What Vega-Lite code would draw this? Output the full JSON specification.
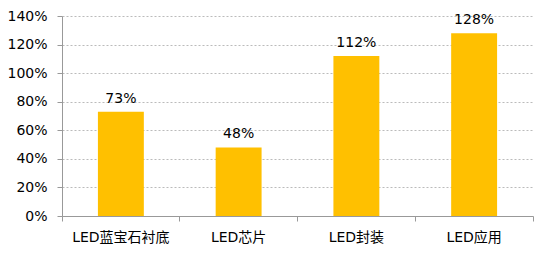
{
  "$schema": "https://vega.github.io/schema/vega-lite/v6.json",
  "autosize": {"type": "none"},
  "padding": {"left": 62, "top": 16, "right": 14, "bottom": 63},
  "width": 471,
  "height": 200,
  "background": "white",
  "config": {"view": {"stroke": null}, "font": "DejaVu Sans, Noto Sans CJK SC"},
  "data": {"values": [
    {"cat": "LED蓝宝石衬底", "v": 0.73},
    {"cat": "LED芯片", "v": 0.48},
    {"cat": "LED封装", "v": 1.12},
    {"cat": "LED应用", "v": 1.28}
  ]},
  "layer": [
    {
      "mark": {"type": "bar", "color": "#FFC000", "width": {"band": 0.39}},
      "encoding": {
        "x": {"field": "cat", "type": "nominal", "sort": null,
              "scale": {"paddingInner": 0, "paddingOuter": 0},
              "axis": {"title": null, "labelAngle": 0, "bandPosition": 1, "tickExtra": true,
                       "domainColor": "#999", "tickColor": "#999", "tickSize": 5,
                       "labelFontSize": 14, "labelColor": "#000", "labelPadding": 9,
                       "labelFont": "DejaVu Sans, Noto Sans CJK SC"}},
        "y": {"field": "v", "type": "quantitative",
              "scale": {"domain": [0, 1.4], "nice": false},
              "axis": {"title": null, "values": [0, 0.2, 0.4, 0.6, 0.8, 1.0, 1.2, 1.4], "tickCount": 10, "format": ".0%",
                       "labelOverlap": false, "labelFlush": false,
                       "domainColor": "#999", "tickColor": "#999", "tickSize": 5,
                       "labelFontSize": 14, "labelColor": "#000", "labelPadding": 10,
                       "labelFont": "DejaVu Sans",
                       "gridColor": "#bbb", "gridDash": [2, 2], "gridWidth": 1}}
      }
    },
    {
      "mark": {"type": "text", "fontSize": 14, "font": "DejaVu Sans", "color": "#000", "baseline": "alphabetic", "dy": -9},
      "encoding": {
        "x": {"field": "cat", "type": "nominal", "sort": null},
        "y": {"field": "v", "type": "quantitative"},
        "text": {"field": "v", "type": "quantitative", "format": ".0%"}
      }
    }
  ]
}
